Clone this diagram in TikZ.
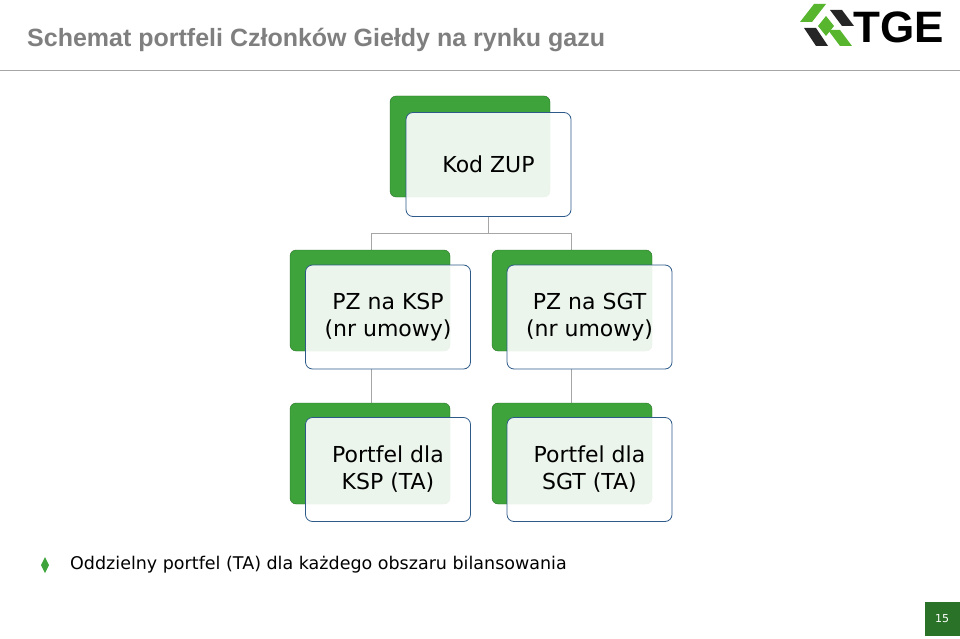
\documentclass[tikz,border=0pt]{standalone}
\usepackage{fontspec}
\setmainfont{DejaVu Sans}
\newfontfamily\titlefont{Liberation Sans}
\usetikzlibrary{calc, positioning}
\definecolor{tgegreen}{HTML}{3DA33A}
\definecolor{frameblue}{HTML}{2E5A8A}
\definecolor{linegray}{HTML}{A6A6A6}
\definecolor{titlegray}{HTML}{7F7F7F}

\begin{document}
\begin{tikzpicture}[
        x=1pt, y=-1pt,
        back/.style={fill=tgegreen, draw=tgegreen!70!black, rounded corners=6pt},
        front/.style={fill=white, fill opacity=0.9, text opacity=1, draw=frameblue, thick, rounded corners=7pt, minimum width=165pt, minimum height=104pt, align=center, font=\fontsize{22}{27}\selectfont},
        link/.style={draw=linegray, thick}
    ]
    \useasboundingbox (0,0) rectangle (960,639);
    % title
    \node[anchor=west, text=titlegray, font=\titlefont\bfseries\fontsize{25}{28}\selectfont, inner sep=0pt] (title) at (27,40) {Schemat portfeli Członków Giełdy na rynku gazu};
    \draw[linegray, thick] (0,70) -- (960,70);
    % logo
    \fill[tgegreen!80!lime] (814,4) -- (826,4) -- (812,22) -- (800,22) -- cycle;
    \fill[tgegreen!80!lime] (828,30) -- (840,30) -- (852,46) -- (840,46) -- cycle;
    \fill[black!85] (804,28) -- (816,28) -- (828,46) -- (816,46) -- cycle;
    \fill[black!85] (830,10) -- (842,10) -- (854,26) -- (842,26) -- (836,18) -- cycle;
    \fill[tgegreen!80!lime] (818,26) -- (826,16) -- (834,26) -- (826,36) -- cycle;
    \node[anchor=west, font=\titlefont\bfseries\fontsize{44}{46}\selectfont, inner sep=0pt] (logo) at (853,27) {TGE};
    % connectors
    \coordinate (top) at (488,216);
    \coordinate (fork) at (488,233);
    \draw[link] (top) -- (fork);
    \draw[link] (371,233) -- (571,233);
    \draw[link] (371,233) -- (371,250);
    \draw[link] (571,233) -- (571,250);
    \draw[link] (371,369) -- (371,403);
    \draw[link] (571,369) -- (571,403);
    % back boxes
    \foreach \bx/\by in {390/96, 290/250, 492/250, 290/403, 492/403} {
        \fill[back] (\bx,\by) rectangle ++(160,101);
    }
    % front boxes
    \node[front] (zup) at (488.5,164.5) {Kod ZUP};
    \node[front] (pzksp) at (388,317) {PZ na KSP\\(nr umowy)};
    \node[front] (pzsgt) at (589.5,317) {PZ na SGT\\(nr umowy)};
    \node[front] (tagksp) at (388,469.5) {Portfel dla\\KSP (TA)};
    \node[front] (tagsgt) at (589.5,469.5) {Portfel dla\\SGT (TA)};
    % note
    \fill[tgegreen] (45,557) -- (49,565) -- (45,573) -- (41,565) -- cycle;
    \node[anchor=west, font=\fontsize{17.5}{20}\selectfont, inner sep=0pt] (note) at (70,565) {Oddzielny portfel (TA) dla każdego obszaru bilansowania};
    % page number
    \fill[tgegreen!70!black] (925,602) rectangle (960,636);
    \node[text=white, font=\fontsize{11}{12}\selectfont] (page) at (942,619) {15};
\end{tikzpicture}
\end{document}
